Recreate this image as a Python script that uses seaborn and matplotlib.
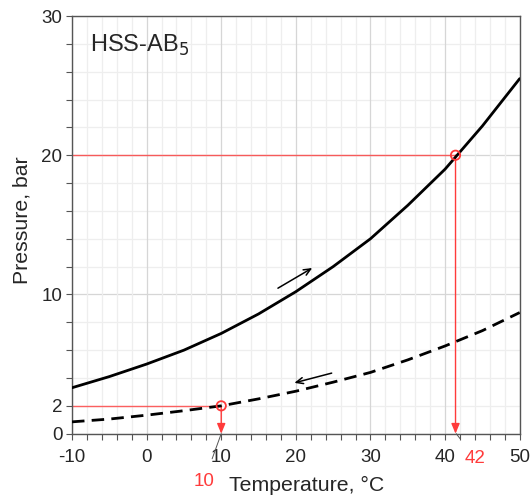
import matplotlib
matplotlib.use('Agg')
import matplotlib.pyplot as plt
import seaborn as sns
import pandas as pd
from matplotlib.ticker import MultipleLocator, FixedLocator

# absorption (solid) and desorption (dashed) isotherms
temp = [-10, -5, 0, 5, 10, 15, 20, 25, 30, 35, 40, 45, 50]
p_abs = [3.3, 4.1, 5.0, 6.0, 7.2, 8.6, 10.2, 12.0, 14.0, 16.4, 19.0, 22.1, 25.5]
p_des = [0.85, 1.05, 1.33, 1.65, 2.0, 2.5, 3.05, 3.7, 4.4, 5.3, 6.3, 7.4, 8.7]

# operating points
op_temp = [41.4, 10]
op_pres = [20, 2]

y_ticks = [0, 2, 10, 20, 30]
x_ticks = [-10, 0, 10, 20, 30, 40, 50]

sns.set_style('white')
plt.rcParams['font.family'] = ['Liberation Sans', 'DejaVu Sans']

df = pd.DataFrame({'temp': temp, 'abs': p_abs, 'des': p_des})
pts = pd.DataFrame({'temp': op_temp, 'pres': op_pres})

fig = plt.figure(figsize=(5.31, 4.97), dpi=100)
ax = fig.add_axes([0.1356, 0.1274, 0.8431, 0.8404])

# grid
for v in range(0, 31, 2):
    ax.axhline(v, color='#d6d6d6' if v % 10 == 0 else '#eeeeee', lw=0.9, zorder=0)
for v in range(-10, 51, 2):
    ax.axvline(v, color='#d6d6d6' if v % 10 == 0 else '#eeeeee', lw=0.9, zorder=0)

# red guide lines
red = '#ff3b3b'
for t, p in zip(op_temp, op_pres):
    ax.plot([-10, t], [p, p], color=red, lw=1.0, alpha=0.8, zorder=2)
    ax.annotate('', xy=(t, 0), xytext=(t, p),
                arrowprops=dict(arrowstyle='-|>,head_length=0.6,head_width=0.25',
                                color=red, lw=1.0, shrinkA=0, shrinkB=0), zorder=2)

sns.lineplot(data=df, x='temp', y='abs', color='black', lw=2.0, ax=ax, zorder=3)
sns.lineplot(data=df, x='temp', y='des', color='black', lw=2.0, ax=ax, zorder=3,
             linestyle=(0, (4.5, 2.6)))
sns.scatterplot(data=pts, x='temp', y='pres', marker='o', s=45, facecolor='none',
                edgecolor=red, linewidth=1.3, ax=ax, zorder=4)

# direction arrows
ax.annotate('', xy=(22.2, 11.9), xytext=(17.6, 10.45),
            arrowprops=dict(arrowstyle='->,head_length=0.5,head_width=0.22',
                            color='black', lw=1.1, shrinkA=0, shrinkB=0))
ax.annotate('', xy=(19.8, 3.65), xytext=(24.8, 4.35),
            arrowprops=dict(arrowstyle='->,head_length=0.5,head_width=0.22',
                            color='black', lw=1.1, shrinkA=0, shrinkB=0))

# value labels with leader lines
ax.annotate('42', xy=(41.5, 0), xytext=(44.0, -1.75), color=red, fontsize=13.5,
            ha='center', va='center', annotation_clip=False,
            arrowprops=dict(arrowstyle='-', color='#555555', lw=0.7,
                            shrinkA=7, shrinkB=0))
ax.annotate('10', xy=(10, 0), xytext=(7.7, -3.4), color=red, fontsize=13.5,
            ha='center', va='center', annotation_clip=False,
            arrowprops=dict(arrowstyle='-', color='#555555', lw=0.7,
                            shrinkA=8, shrinkB=0))

ax.text(-7.6, 27.9, 'HSS-AB$_5$', fontsize=17, ha='left', va='center')

ax.set_xlim(-10, 50)
ax.set_ylim(0, 30)
ax.xaxis.set_major_locator(FixedLocator(x_ticks))
ax.yaxis.set_major_locator(FixedLocator(y_ticks))
ax.xaxis.set_minor_locator(MultipleLocator(2))
ax.yaxis.set_minor_locator(MultipleLocator(2))
ax.set_xticklabels([str(v) for v in x_ticks])
ax.set_yticklabels([str(v) for v in y_ticks])
ax.tick_params(which='both', direction='out', length=4, width=0.8, color='#555555',
               labelsize=13.5, left=True, bottom=True, pad=3)
ax.tick_params(axis='x', pad=7)

ax.set_xlabel('Temperature, °C', fontsize=15.3, labelpad=7, x=0.525)
ax.set_ylabel('Pressure, bar', fontsize=15.3, labelpad=7, y=0.512)
for s in ax.spines.values():
    s.set_color('#555555')
    s.set_linewidth(1.0)

fig.savefig('out.png', dpi=100)
